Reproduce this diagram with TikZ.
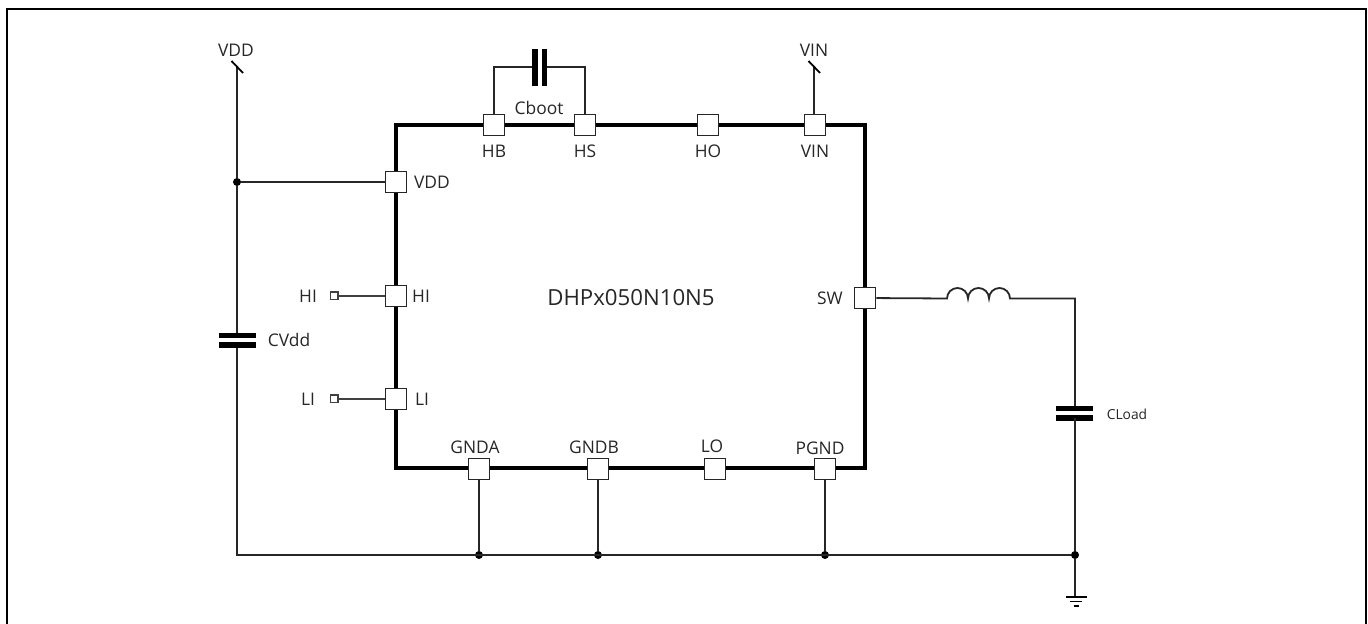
\documentclass[tikz,border=0pt]{standalone}
\usepackage{fontspec}
\setmainfont{Open Sans}
\usepackage{color}
\definecolor{labeltext}{gray}{0.15}
\tikzset{
  pin/.style={draw=black!85, fill=white, line width=0.75pt, minimum size=10.5pt, inner sep=0pt},
  terminal/.style={draw=black!75, fill=white, line width=0.7pt, minimum size=3.8pt, inner sep=0pt},
  dot/.style={circle, fill=black, minimum size=4pt, inner sep=0pt},
  tag/.style={text=labeltext, font=\fontsize{8.7}{10}\selectfont, inner sep=0pt},
  wire/.style={line width=0.9pt, color=black!85},
  plate/.style={line width=2.6pt, color=black},
}

\begin{document}
\begin{tikzpicture}[x=0.5pt, y=-0.5pt]
  \useasboundingbox (0, 0) rectangle (1368, 624);
  \draw [line width=1pt] (7, 624) -- (7, 9) -- (1366, 9) -- (1366, 624);

  % chip outline
  \draw [line width=1.65pt, line join=miter] (396, 125) rectangle (865, 468);
  \node (title) at (631, 298) [tag, font=\fontsize{11.1}{13}\selectfont] {DHPx050N10N5};

  % pins on the chip
  \node [pin] (pinVDD) at (396, 182) {};
  \node [pin] (pinHI) at (396, 296) {};
  \node [pin] (pinLI) at (396, 399) {};
  \node [pin] (pinHB) at (494, 125) {};
  \node [pin] (pinHS) at (585, 125) {};
  \node [pin] (pinHO) at (708, 125) {};
  \node [pin] (pinVIN) at (815, 125) {};
  \node [pin] (pinSW) at (865, 298) {};
  \node [pin] (pinGNDA) at (479, 469) {};
  \node [pin] (pinGNDB) at (598, 469) {};
  \node [pin] (pinLO) at (715, 469) {};
  \node [pin] (pinPGND) at (825, 469) {};

  \node [tag] (lblVDD) at (432, 182) {VDD};
  \node [tag] (lblHI) at (421, 296) {HI};
  \node [tag] (lblLI) at (422, 399) {LI};
  \node [tag] (lblHB) at (494, 151) {HB};
  \node [tag] (lblHS) at (585, 151) {HS};
  \node [tag] (lblHO) at (708, 151) {HO};
  \node [tag] (lblVIN) at (815, 151) {VIN};
  \node [tag] (lblSW) at (830, 298) {SW};
  \node [tag] (lblGNDA) at (475, 447) {GNDA};
  \node [tag] (lblGNDB) at (594, 447) {GNDB};
  \node [tag] (lblLO) at (712, 446) {LO};
  \node [tag] (lblPGND) at (820, 448) {PGND};

  % inputs
  \node [terminal] (termHI) at (334, 296) {};
  \node [terminal] (termLI) at (334, 399) {};
  \node [tag] (inHI) at (308, 296) {HI};
  \node [tag] (inLI) at (308, 399) {LI};
  \draw [line width=0.6pt, color=black!75] (termHI) -- (pinHI);
  \draw [line width=0.6pt, color=black!75] (termLI) -- (pinLI);

  % supply rails
  \coordinate (railVDD) at (237, 67);
  \coordinate (railVIN) at (814, 67);
  \node [dot] (jVDD) at (237, 182) {};
  \node [dot] (jA) at (479, 555) {};
  \node [dot] (jB) at (598, 555) {};
  \node [dot] (jP) at (825, 555) {};
  \node [dot] (jL) at (1075, 555) {};
  \coordinate (railLeft) at (237, 555);
  \coordinate (capVa) at (237, 335);
  \coordinate (capVb) at (237, 345);
  \draw [wire] (railVDD) -- (jVDD) -- (capVa);
  \draw [wire] (capVb) -- (railLeft) -- (jL);
  \draw [wire] (jVDD) -- (pinVDD);
  \draw [wire] (pinGNDA) -- (jA);
  \draw [wire] (pinGNDB) -- (jB);
  \draw [wire] (pinPGND) -- (jP);
  \draw [wire] (pinVIN.north -| railVIN) -- (railVIN);
  \draw [line width=0.9pt] (231.5, 61) -- (243, 73);
  \draw [line width=0.9pt] (808.5, 61) -- (820, 73);
  \node [tag] (topVDD) at (236, 50) {VDD};
  \node [tag] (topVIN) at (814, 50) {VIN};

  % CVdd
  \draw [plate] (219, 335.5) -- (256, 335.5);
  \draw [plate] (219, 345) -- (256, 345);
  \node [tag] (lblCVdd) at (289, 340) {CVdd};

  % Cboot
  \coordinate (bootL) at (535, 67);
  \coordinate (bootR) at (544, 67);
  \draw [wire] (pinHB.north) -- (pinHB.north |- bootL) -- (bootL);
  \draw [wire] (pinHS.north) -- (pinHS.north |- bootR) -- (bootR);
  \draw [plate] (535, 49) -- (535, 86);
  \draw [plate] (544.5, 49) -- (544.5, 86);
  \node [tag] (lblCboot) at (539, 108) {Cboot};

  % inductor and CLoad
  \coordinate (indIn) at (947, 298.5);
  \coordinate (indOut) at (1010, 298.5);
  \coordinate (capLa) at (1075, 408);
  \coordinate (capLb) at (1075, 418);
  \draw [wire] (pinSW) -- (indIn) arc (180:360:10.5) arc (180:360:10.5) arc (180:360:10.5)
               -- (indOut) -- (indOut -| capLa) -- (capLa);
  \draw [plate] (1056, 408.5) -- (1093, 408.5);
  \draw [plate] (1056, 418) -- (1093, 418);
  \draw [wire] (capLb) -- (jL);
  \node [tag, font=\fontsize{6.9}{8}\selectfont] (lblCLoad) at (1127, 414) {CLoad};

  % ground
  \coordinate (gnd) at (1075, 597);
  \draw [wire] (jL) -- (gnd);
  \draw [line width=0.6pt] (1066, 597) -- (1087, 597);
  \draw [line width=0.6pt] (1070, 601.5) -- (1082, 601.5);
  \draw [line width=0.6pt] (1074, 606) -- (1079, 606);
\end{tikzpicture}
\end{document}
